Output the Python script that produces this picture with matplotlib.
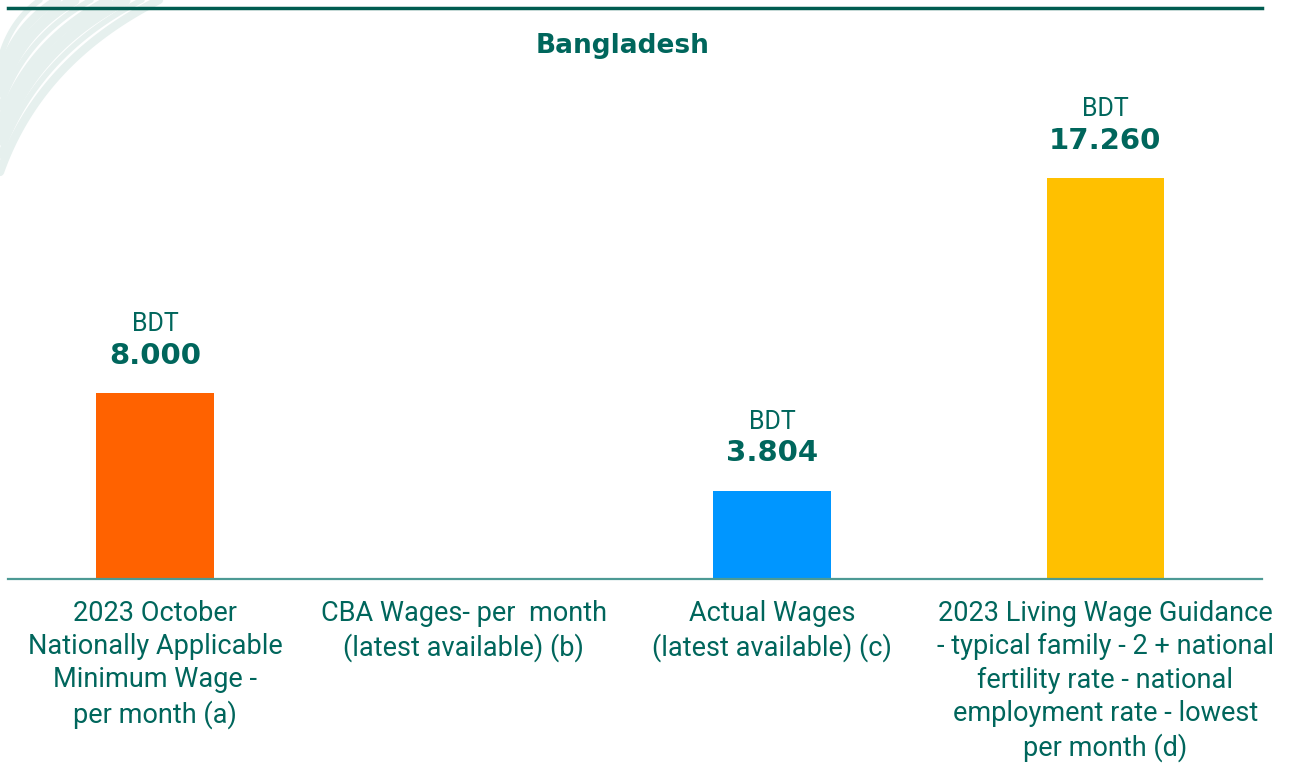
import numpy as np
import matplotlib.pyplot as plt

# Данные
categories = [
    "2023 October\nNationally Applicable\nMinimum Wage -\nper month (a)",
    "CBA Wages- per  month\n(latest available) (b)",
    "Actual Wages\n(latest available) (c)",
    "2023 Living Wage Guidance\n- typical family - 2 + national\nfertility rate - national\nemployment rate - lowest\nper month (d)",
]
values = [8000, np.nan, 3804, 17260]
value_labels = ["8.000", "", "3.804", "17.260"]
currency = "BDT"
colors = ["#ff6200", "#0096ff", "#0096ff", "#ffc000"]
title = "Bangladesh"

txt_color = "#00665c"

fig = plt.figure(figsize=(12.9, 7.72), dpi=100)

# декоративные мазки в левом верхнем углу
bg = fig.add_axes([0, 0, 1, 1], zorder=-1)
bg.set_xlim(0, 1290)
bg.set_ylim(772, 0)
bg.axis("off")
t = np.linspace(0, 1, 60)
for k in range(8):
    y0 = 60 + k * 16
    x1 = 40 + k * 17
    cx, cy = x1 * 0.25, y0 * 0.35
    xs = (1 - t) ** 2 * 0 + 2 * (1 - t) * t * cx + t ** 2 * x1
    ys = (1 - t) ** 2 * y0 + 2 * (1 - t) * t * cy + t ** 2 * 0
    bg.plot(xs, ys, color="#e6f0ee", lw=4 + (k % 3) * 2,
            solid_capstyle="round")

ax = fig.add_axes([8 / 1290, 193 / 772, 1254 / 1290, 571 / 772])
ax.patch.set_alpha(0)

x = np.array([0, 1, 2, 3.08])
ax.bar(x, values, width=0.38, color=colors, zorder=2)
ax.set_xlim(-0.4765, 3.588)
ax.set_ylim(0, 24600)

for xi, v, lab in zip(x, values, value_labels):
    if np.isnan(v):
        continue
    ax.annotate(lab, (xi, v), xytext=(0, 17), textcoords="offset points",
                ha="center", va="bottom", fontsize=21, fontweight="bold",
                color=txt_color, family="DejaVu Sans")
    ax.annotate(currency, (xi, v), xytext=(0, 41), textcoords="offset points",
                ha="center", va="bottom", fontsize=18, color=txt_color,
                family="Roboto")

for xi, c in zip(x, categories):
    ax.text(xi, -900, c, ha="center", va="top", fontsize=19.5,
            color=txt_color, family="Roboto", linespacing=1.3)

ax.set_xticks([])
ax.set_yticks([])
for s in ["left", "right"]:
    ax.spines[s].set_visible(False)
ax.spines["bottom"].set_color("#4d9a94")
ax.spines["bottom"].set_linewidth(1.6)
ax.spines["top"].set_color("#005c50")
ax.spines["top"].set_linewidth(2.5)

fig.text(623 / 1290, 1 - 46 / 772, title, ha="center", va="center",
         fontsize=19, fontweight="bold", color=txt_color)

fig.savefig("out.png", dpi=100)
